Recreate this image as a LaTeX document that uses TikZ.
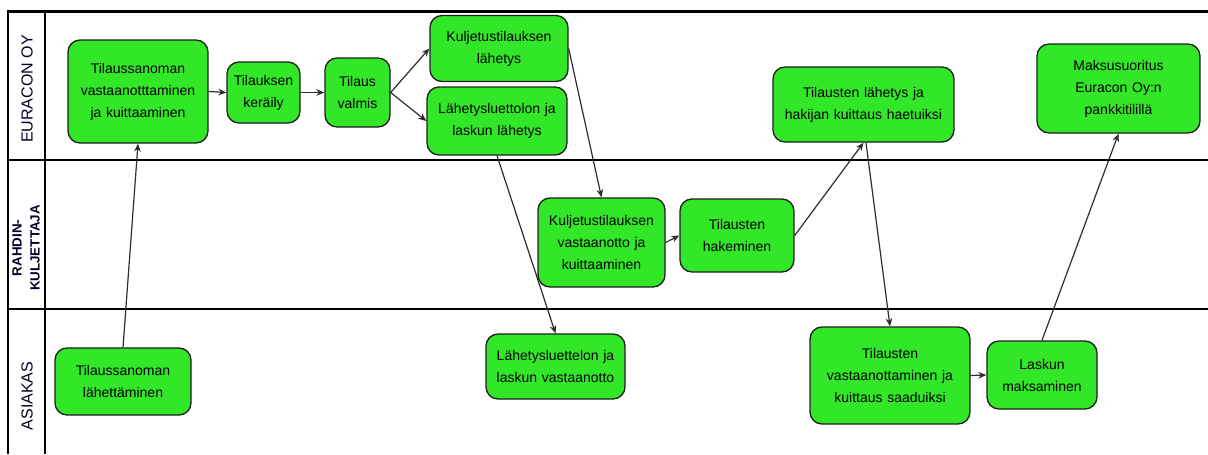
\documentclass[tikz,border=0pt]{standalone}
\usepackage{fontspec}
\setmainfont{Liberation Sans}
\usetikzlibrary{arrows.meta}
\definecolor{boxgreen}{RGB}{50,230,40}
\definecolor{boxline}{RGB}{30,30,30}
\definecolor{arrowc}{RGB}{45,45,45}
\tikzset{
  procbox/.style={draw=boxline, line width=1pt, fill=boxgreen, rounded corners=9pt,
    align=center, inner sep=2pt, font=\fontsize{10.5}{16.5}\selectfont, text=black},
  lane/.style={line width=2.1pt, black},
  flow/.style={draw=arrowc, line width=0.9pt, -{Stealth[length=6pt,width=5pt]}},
  lanelabel/.style={rotate=90, font=\fontsize{12}{14}\selectfont, text=black!85!blue},
  lanelabelb/.style={rotate=90, font=\bfseries\fontsize{10}{13.5}\selectfont, align=center, text=black!85!blue}
}
\begin{document}
\begin{tikzpicture}[x=0.75pt,y=-0.75pt]
\useasboundingbox (0,0) rectangle (1208,454);
% lanes
\draw[lane, line width=2.8pt] (8,11.5) -- (1208,11.5);
\draw[lane] (8,160) -- (1208,160);
\draw[lane] (8,309) -- (1208,309);
\draw[lane] (8,10) -- (8,454);
\draw[lane] (45,10) -- (45,454);
\node[lanelabel] (l1) at (27,89) {EURACON OY};
\node[lanelabelb] (l2) at (26,248) {RAHDIN-\\KULJETTAJA};
\node[lanelabel] (l3) at (27,396) {ASIAKAS};
% boxes
\node[procbox, text width=130*0.75pt, minimum width=140*0.75pt, minimum height=103*0.75pt] (n1) at (138,91.5) {Tilaussanoman\\vastaanotttaminen\\ja kuittaaminen};
\node[procbox, text width=66*0.75pt, minimum width=73*0.75pt, minimum height=61*0.75pt] (n2) at (263.5,92.5) {Tilauksen\\keräily};
\node[procbox, text width=58*0.75pt, minimum width=65*0.75pt, minimum height=69*0.75pt] (n3) at (357.5,92.5) {Tilaus\\valmis};
\node[procbox, text width=130*0.75pt, minimum width=138*0.75pt, minimum height=66*0.75pt] (n4) at (499,48.5) {Kuljetustilauksen\\lähetys};
\node[procbox, text width=132*0.75pt, minimum width=140*0.75pt, minimum height=68*0.75pt] (n5) at (497,121) {Lähetysluettolon ja\\laskun lähetys};
\node[procbox, text width=120*0.75pt, minimum width=127*0.75pt, minimum height=89*0.75pt] (n6) at (601.5,242.5) {Kuljetustilauksen\\vastaanotto ja\\kuittaaminen};
\node[procbox, text width=106*0.75pt, minimum width=114*0.75pt, minimum height=73*0.75pt] (n7) at (737,235.5) {Tilausten\\hakeminen};
\node[procbox, text width=174*0.75pt, minimum width=181*0.75pt, minimum height=75*0.75pt] (n8) at (863.5,104.5) {Tilausten lähetys ja\\hakijan kuittaus haetuiksi};
\node[procbox, text width=156*0.75pt, minimum width=163*0.75pt, minimum height=89*0.75pt] (n9) at (1118.5,88.5) {Maksusuoritus\\Euracon Oy:n\\pankkitilillä};
\node[procbox, text width=128*0.75pt, minimum width=136*0.75pt, minimum height=67*0.75pt] (n10) at (123,381.5) {Tilaussanoman\\lähettäminen};
\node[procbox, text width=132*0.75pt, minimum width=139*0.75pt, minimum height=65*0.75pt] (n11) at (555.5,366.5) {Lähetysluettelon ja\\laskun vastaanotto};
\node[procbox, text width=154*0.75pt, minimum width=160*0.75pt, minimum height=97*0.75pt] (n12) at (890,375.5) {Tilausten\\vastaanottaminen ja\\kuittaus saaduiksi};
\node[procbox, text width=102*0.75pt, minimum width=110*0.75pt, minimum height=68*0.75pt] (n13) at (1042,375) {Laskun\\maksaminen};
% connectors
\draw[flow] (n10.north) -- (n1.south);
\draw[flow] (n1.east) -- (n2.west);
\draw[flow] (n2.east) -- (n3.west);
\draw[flow] (n3.east) -- (n4.west);
\draw[flow] (n3.east) -- (n5.west);
\draw[flow] (n4.east) -- (n6.north);
\draw[flow] (n5.south) -- (n11.north);
\draw[flow] (n6.east) -- (n7.west);
\draw[flow] (n7.east) -- (n8.south);
\draw[flow] ([xshift=2.5*0.75pt]n8.south) -- (n12.north);
\draw[flow] (n12.east) -- (n13.west);
\draw[flow] (n13.north) -- (n9.south);
\end{tikzpicture}
\end{document}
